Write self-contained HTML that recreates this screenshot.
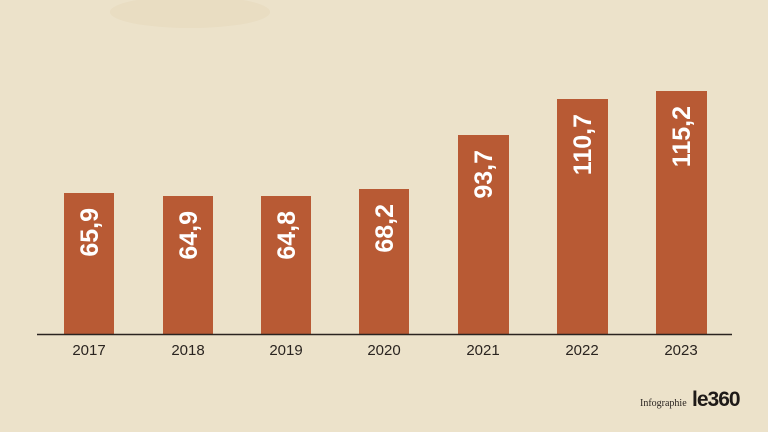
<!DOCTYPE html>
<html><head><meta charset="utf-8"><style>
html,body{margin:0;padding:0;width:768px;height:432px;overflow:hidden;background:#ece2ca;}
</style></head><body>
<svg width="768" height="432" xmlns="http://www.w3.org/2000/svg" style="display:block">
<rect width="768" height="432" fill="#ece2ca"/>
<ellipse cx="190" cy="12" rx="80" ry="16" fill="#e5d8ba" opacity="0.5"/>
<g fill="#b85a34">
<rect x="64" y="193" width="50" height="141"/>
<rect x="163" y="196" width="50" height="138"/>
<rect x="261" y="196" width="50" height="138"/>
<rect x="359" y="189" width="50" height="145"/>
<rect x="458" y="135" width="51" height="199"/>
<rect x="557" y="99" width="51" height="235"/>
<rect x="656" y="91" width="51" height="243"/>
</g>
<line x1="37" y1="334.5" x2="732" y2="334.5" stroke="#2a2420" stroke-width="1.5"/>
<g font-family="Liberation Sans, sans-serif" font-weight="bold" font-size="25" fill="#fff" text-anchor="end">
<text transform="translate(98,208) rotate(-90)">65,9</text>
<text transform="translate(197,211) rotate(-90)">64,9</text>
<text transform="translate(295,211) rotate(-90)">64,8</text>
<text transform="translate(393,204) rotate(-90)">68,2</text>
<text transform="translate(492,150) rotate(-90)">93,7</text>
<text transform="translate(591,114) rotate(-90)">110,7</text>
<text transform="translate(690,106) rotate(-90)">115,2</text>
</g>
<g font-family="Liberation Sans, sans-serif" font-size="15" fill="#2a2420" text-anchor="middle">
<text x="89" y="355">2017</text>
<text x="188" y="355">2018</text>
<text x="286" y="355">2019</text>
<text x="384" y="355">2020</text>
<text x="483" y="355">2021</text>
<text x="582" y="355">2022</text>
<text x="681" y="355">2023</text>
</g>
<text x="640" y="406" font-family="Liberation Serif, serif" font-size="10" fill="#2a2420">Infographie</text>
<text x="692" y="406" font-family="Liberation Sans, sans-serif" font-size="21" fill="#1e1a18" font-weight="bold" letter-spacing="-1">le360</text>
</svg>
</body></html>
